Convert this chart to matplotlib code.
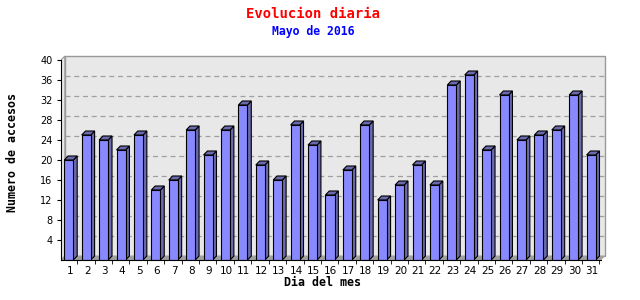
import matplotlib
matplotlib.use("Agg")
import matplotlib.pyplot as plt
from matplotlib.patches import Polygon, Rectangle

# datos
dias = list(range(1, 32))
accesos = [20, 25, 24, 22, 25, 14, 16, 26, 21, 26, 31, 19, 16, 27, 23, 13,
           18, 27, 12, 15, 19, 15, 35, 37, 22, 33, 24, 25, 26, 33, 21]
yticks = [4, 8, 12, 16, 20, 24, 28, 32, 36, 40]

titulo = "Evolucion diaria"
subtitulo = "Mayo de 2016"

dx = 0.22   # profundidad 3d en x (unidades de dia)
dy = 0.8    # profundidad 3d en y (unidades de accesos)
ancho = 0.52
desp = -0.31

fig = plt.figure(figsize=(6.4, 3.0), dpi=100)
ax = fig.add_axes([61 / 640, 40 / 300, 546 / 640, 206 / 300])
ax.set_xlim(0.5, 0.5 + 546 / 17.41)
ax.set_ylim(0, 41.2)
ax.patch.set_visible(False)

x0, x1 = 0.5, 31.5
# pared del fondo
ax.add_patch(Rectangle((x0 + dx, dy), x1 - x0, 40, facecolor="#e8e8e8",
                       edgecolor="#999999", lw=1, zorder=0))
# pared lateral
ax.add_patch(Polygon([(x0, 0), (x0 + dx, dy), (x0 + dx, 40 + dy), (x0, 40)],
                     facecolor="#e8e8e8", edgecolor="#999999", lw=0.8, zorder=0.5))
# suelo
ax.add_patch(Polygon([(x0, 0), (x1, 0), (x1 + dx, dy), (x0 + dx, dy)],
                     facecolor="#a0a0a0", edgecolor="#a0a0a0", lw=0.5, zorder=0.5))
# rejilla
for v in yticks[:-1]:
    ax.plot([x0 + dx, x1 + dx], [v + dy, v + dy], color="#a0a0a0", lw=0.9,
            dashes=(4, 3), zorder=1)

# barras 3d
for d, v in zip(dias, accesos):
    a = d + desp
    b = a + ancho
    ax.add_patch(Polygon([(b, 0), (b + dx, dy), (b + dx, v + dy), (b, v)],
                         facecolor="#6a6aae", edgecolor="black", lw=0.8, zorder=3))
    ax.add_patch(Polygon([(a, v), (a + dx, v + dy), (b + dx, v + dy), (b, v)],
                         facecolor="#6a6aae", edgecolor="black", lw=0.8, zorder=3))
ax.bar([d + desp for d in dias], accesos, width=ancho, align="edge",
       color="#8888ff", edgecolor="black", lw=0.8, zorder=4)

for s in ["top", "right"]:
    ax.spines[s].set_visible(False)
ax.spines["left"].set_bounds(0, 40)
ax.spines["bottom"].set_bounds(x0, x1)
ax.spines["left"].set_zorder(5)
ax.spines["bottom"].set_zorder(5)

ax.set_yticks(yticks)
ax.set_yticklabels([str(t) for t in yticks], fontsize=7)
ax.tick_params(axis="y", direction="out", length=3, pad=3)
ax.set_xticks(dias)
ax.set_xticklabels([str(d) for d in dias], fontsize=7.5)
ax.set_xticks([d + 0.43 for d in dias], minor=True)
ax.tick_params(axis="x", which="major", length=0, pad=4.5)
ax.tick_params(axis="x", which="minor", direction="out", length=3)

fig.text(313 / 640, 1 - 14 / 300, titulo, color="red", fontsize=10,
         family="DejaVu Sans Mono", weight="bold", ha="center", va="center")
fig.text(313 / 640, 1 - 32 / 300, subtitulo, color="blue", fontsize=8.3,
         family="DejaVu Sans Mono", weight="bold", ha="center", va="center")
fig.text(13 / 640, 1 - 153 / 300, "Numero de accesos", rotation=90,
         fontsize=8.4, family="DejaVu Sans Mono", weight="bold",
         ha="center", va="center")
fig.text(323 / 640, 1 - 282 / 300, "Dia del mes", fontsize=8.4,
         family="DejaVu Sans Mono", weight="bold", ha="center", va="center")

fig.savefig("out.png", dpi=100)
